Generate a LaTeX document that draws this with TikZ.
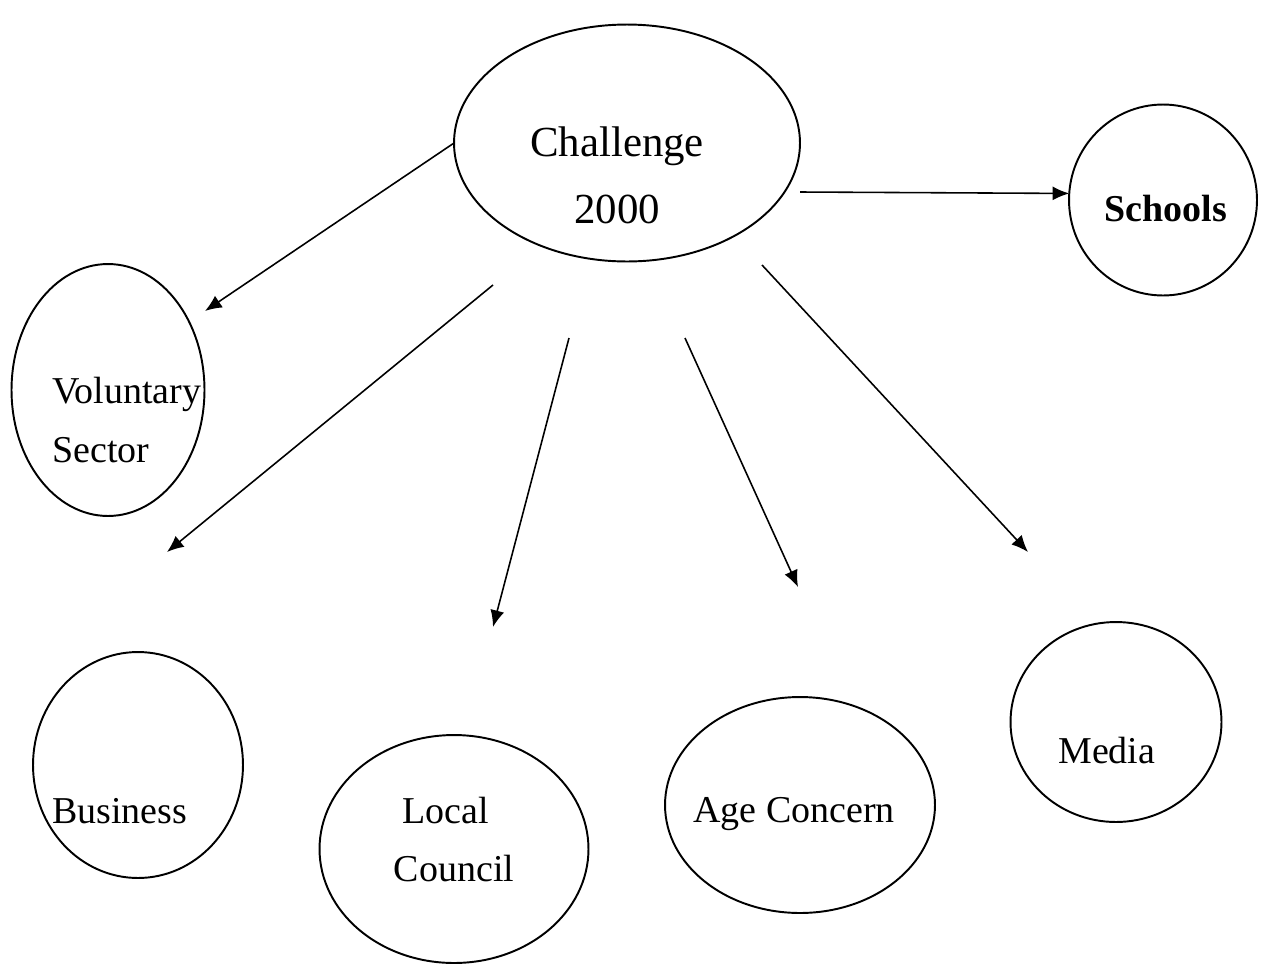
\documentclass[tikz,border=0pt]{standalone}
\usepackage{fontspec}
\setmainfont{Liberation Serif}
\usetikzlibrary{shapes.geometric,arrows.meta}

\tikzset{
  bubble/.style={draw,ellipse,line width=1.1pt,inner sep=0pt,outer sep=0pt},
  word/.style={font=\fontsize{21.6}{26}\selectfont,inner sep=0pt},
  bigword/.style={font=\fontsize{24.4}{29}\selectfont,inner sep=0pt},
  link/.style={line width=0.9pt,-{Latex[length=9.5pt,width=8pt]}}
}

\begin{document}
\begin{tikzpicture}[x=0.02cm,y=-0.02cm]
\useasboundingbox (0,0) rectangle (1264,964);
% ellipses
\node[bubble,minimum width=6.92cm,minimum height=4.74cm] (chal) at (627,143) {};
\node[bubble,minimum width=3.76cm,minimum height=3.82cm] (schools) at (1163,200) {};
\node[bubble,minimum width=3.86cm,minimum height=5.04cm] (vol) at (108,390) {};
\node[bubble,minimum width=4.2cm,minimum height=4.52cm] (bus) at (138,765) {};
\node[bubble,minimum width=5.38cm,minimum height=4.56cm] (local) at (454,849) {};
\node[bubble,minimum width=5.4cm,minimum height=4.32cm] (age) at (800,805) {};
\node[bubble,minimum width=4.22cm,minimum height=4.0cm] (media) at (1116,722) {};
% texts
\node[bigword,anchor=base] (t1) at (617,156) {Challenge};
\node[bigword,anchor=base] (t2) at (617,223) {2000};
\node[word,anchor=base] (t3) at (1166,221) {\bfseries Schools};
\node[word,anchor=base west] (t4) at (52,403) {Voluntary};
\node[word,anchor=base west] (t5) at (52,462) {Sector};
\node[word,anchor=base west] (t6) at (52,823) {Business};
\node[word,anchor=base] (t7) at (446,823) {Local};
\node[word,anchor=base] (t8) at (454,881) {Council};
\node[word,anchor=base west] (t9) at (693,822) {Age Concern};
\node[word,anchor=base west] (t10) at (1058,763) {Media};
% arrow ends
\coordinate (a1) at (205,311);
\coordinate (s2) at (493,285);
\coordinate (a2) at (167,552);
\coordinate (s3) at (569,338);
\coordinate (a3) at (493,627);
\coordinate (s4) at (685,338);
\coordinate (a4) at (798,587);
\coordinate (s5) at (762,265);
\coordinate (a5) at (1028,552);
\coordinate (s6) at (800,192);
% arrows
\draw[link] (chal.west) -- (a1);
\draw[link] (s2) -- (a2);
\draw[link] (s3) -- (a3);
\draw[link] (s4) -- (a4);
\draw[link] (s5) -- (a5);
\draw[link] (s6) -- (schools.176);
\end{tikzpicture}
\end{document}
